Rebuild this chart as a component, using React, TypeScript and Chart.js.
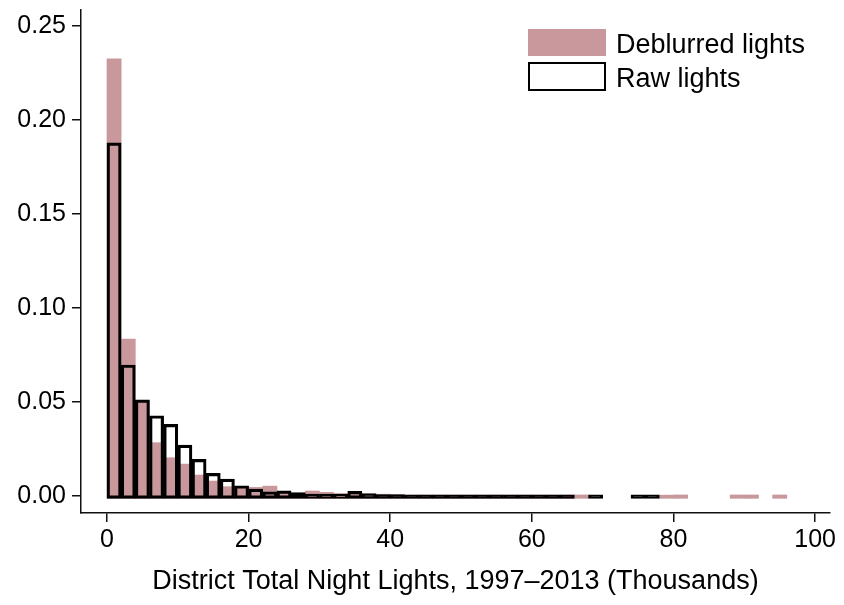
import React, { useEffect, useRef } from "react";
import { Chart, registerables } from "chart.js";

Chart.register(...registerables);

// Histogram bins (thousands of lights), width 2, centres
const BIN_CENTERS = [
  1, 3, 5, 7, 9, 11, 13, 15, 17, 19, 21, 23, 25, 27, 29, 31, 33, 35, 37, 39,
  41, 43, 45, 47, 49, 51, 53, 55, 57, 59, 61, 63, 65, 67, 69, 71, 73, 75, 77, 79,
  81, 83, 85, 87, 89, 91, 93, 95,
];

// Density for deblurred lights (null = empty bin)
const DEBLURRED = [
  0.2325, 0.0835, 0.0505, 0.0284, 0.0204, 0.017, 0.0112, 0.008, 0.005, 0.0048,
  0.0046, 0.0053, 0.0015, 0.0015, 0.0027, 0.002, 0.0014, 0.0015, 0.0008, 0.001,
  0.0007, 0.0005, 0.0005, 0.0005, 0.0005, 0.0005, 0.0005, 0.0005, 0.0005, 0.0005,
  0.0005, 0.0005, 0.0005, 0.0006, null, null, null, null, null, 0.0005,
  0.0006, null, null, null, 0.0006, 0.0006, null, 0.0006,
];

// Density for raw lights
const RAW = [
  0.1878, 0.0697, 0.0512, 0.0427, 0.0381, 0.0271, 0.0195, 0.0121, 0.009, 0.0055,
  0.0037, 0.0023, 0.0028, 0.0018, 0.001, 0.001, 0.0009, 0.0025, 0.0013, 0.0008,
  0.0008, 0.0006, 0.0006, 0.0006, 0.0006, 0.0006, 0.0006, 0.0006, 0.0006, 0.0006,
  0.0006, 0.0006, 0.0006, null, 0.0006, null, null, 0.0006, 0.0006, null,
  null, null, null, null, null, null, null, null,
];

const X_TICKS = [0, 20, 40, 60, 80, 100];
const Y_TICKS = [0, 0.05, 0.1, 0.15, 0.2, 0.25];
const SERIES_LABELS = ["Deblurred lights", "Raw lights"];
const X_TITLE = "District Total Night Lights, 1997\u20132013 (Thousands)";

const PINK = "#c9989c";
const FONT = '"Liberation Sans", Arial, Helvetica, sans-serif';

const insideLegend = {
  id: "insideLegend",
  afterDraw(chart: any) {
    const ctx = chart.ctx;
    const ds = chart.data.datasets;
    ctx.save();
    ctx.fillStyle = PINK;
    ctx.fillRect(528, 29, 78, 27);
    ctx.fillStyle = "#fff";
    ctx.fillRect(529, 63, 76, 27);
    ctx.strokeStyle = "#000";
    ctx.lineWidth = 2;
    ctx.strokeRect(529, 63, 76, 27);
    ctx.fillStyle = "#000";
    ctx.font = `27px ${FONT}`;
    ctx.textBaseline = "alphabetic";
    ctx.textAlign = "left";
    ctx.fillText(ds[0].label, 616, 53);
    ctx.fillText(ds[1].label, 616, 87);
    ctx.restore();
  },
};

export default function App() {
  const ref = useRef<HTMLCanvasElement | null>(null);

  useEffect(() => {
    if (!ref.current) return;
    const chart = new Chart(ref.current, {
      type: "bar",
      data: {
        datasets: [
          {
            label: SERIES_LABELS[0],
            data: BIN_CENTERS.map((x, i) => ({ x, y: DEBLURRED[i] })),
            backgroundColor: PINK,
            borderWidth: 0,
            base: -0.0012,
            grouped: false,
            order: 1,
            barPercentage: 1,
            categoryPercentage: 1,
          } as any,
          {
            label: SERIES_LABELS[1],
            data: BIN_CENTERS.map((x, i) => ({ x, y: RAW[i] })),
            backgroundColor: (c: any) =>
              c.raw && c.raw.y !== null && c.raw.y < 0.0009 ? "#000" : "rgba(0,0,0,0)",
            borderColor: "#000",
            borderWidth: 2.5,
            borderSkipped: false,
            base: -0.0012,
            grouped: false,
            order: 0,
            barPercentage: 1,
            categoryPercentage: 1,
          } as any,
        ],
      },
      options: {
        responsive: false,
        animation: false,
        layout: { padding: { top: 10, right: 14, left: 0, bottom: 0 } },
        plugins: {
          legend: { display: false },
          tooltip: { enabled: false },
        },
        scales: {
          x: {
            type: "linear",
            offset: false,
            min: -3.67,
            max: 102.1,
            afterFit: (s: any) => {
              s.height = 92;
              s.paddingLeft = 0;
              s.paddingRight = 0;
            },
            afterBuildTicks: (s: any) => {
              s.ticks = X_TICKS.map((v) => ({ value: v }));
            },
            grid: {
              offset: false,
              drawOnChartArea: false,
              drawTicks: true,
              tickLength: 9,
              color: "#111",
              lineWidth: 1.5,
            },
            border: { display: true, color: "#111", width: 1.5 },
            ticks: {
              padding: 3,
              color: "#000",
              font: { family: FONT, size: 25 },
              maxRotation: 0,
              autoSkip: false,
              callback: (v: any) => String(v),
            },
            title: {
              display: true,
              text: X_TITLE,
              color: "#000",
              font: { family: FONT, size: 27 },
              padding: { top: 0, bottom: 7 },
            },
          },
          y: {
            type: "linear",
            min: -0.009,
            max: 0.2585,
            afterFit: (s: any) => {
              s.width = 81;
              s.paddingTop = 0;
              s.paddingBottom = 0;
            },
            afterBuildTicks: (s: any) => {
              s.ticks = Y_TICKS.map((v) => ({ value: v }));
            },
            grid: {
              drawOnChartArea: false,
              drawTicks: true,
              tickLength: 9,
              color: "#111",
              lineWidth: 1.5,
            },
            border: { display: true, color: "#111", width: 1.5 },
            ticks: {
              padding: 6,
              color: "#000",
              font: { family: FONT, size: 25 },
              autoSkip: false,
              callback: (v: any) => Number(v).toFixed(2),
            },
          },
        },
      },
      plugins: [insideLegend],
    });
    return () => chart.destroy();
  }, []);

  return (
    <div style={{ position: "fixed", left: 0, top: 0, width: 844, height: 605, background: "#fff" }}>
      <canvas ref={ref} width={844} height={605} />
    </div>
  );
}
